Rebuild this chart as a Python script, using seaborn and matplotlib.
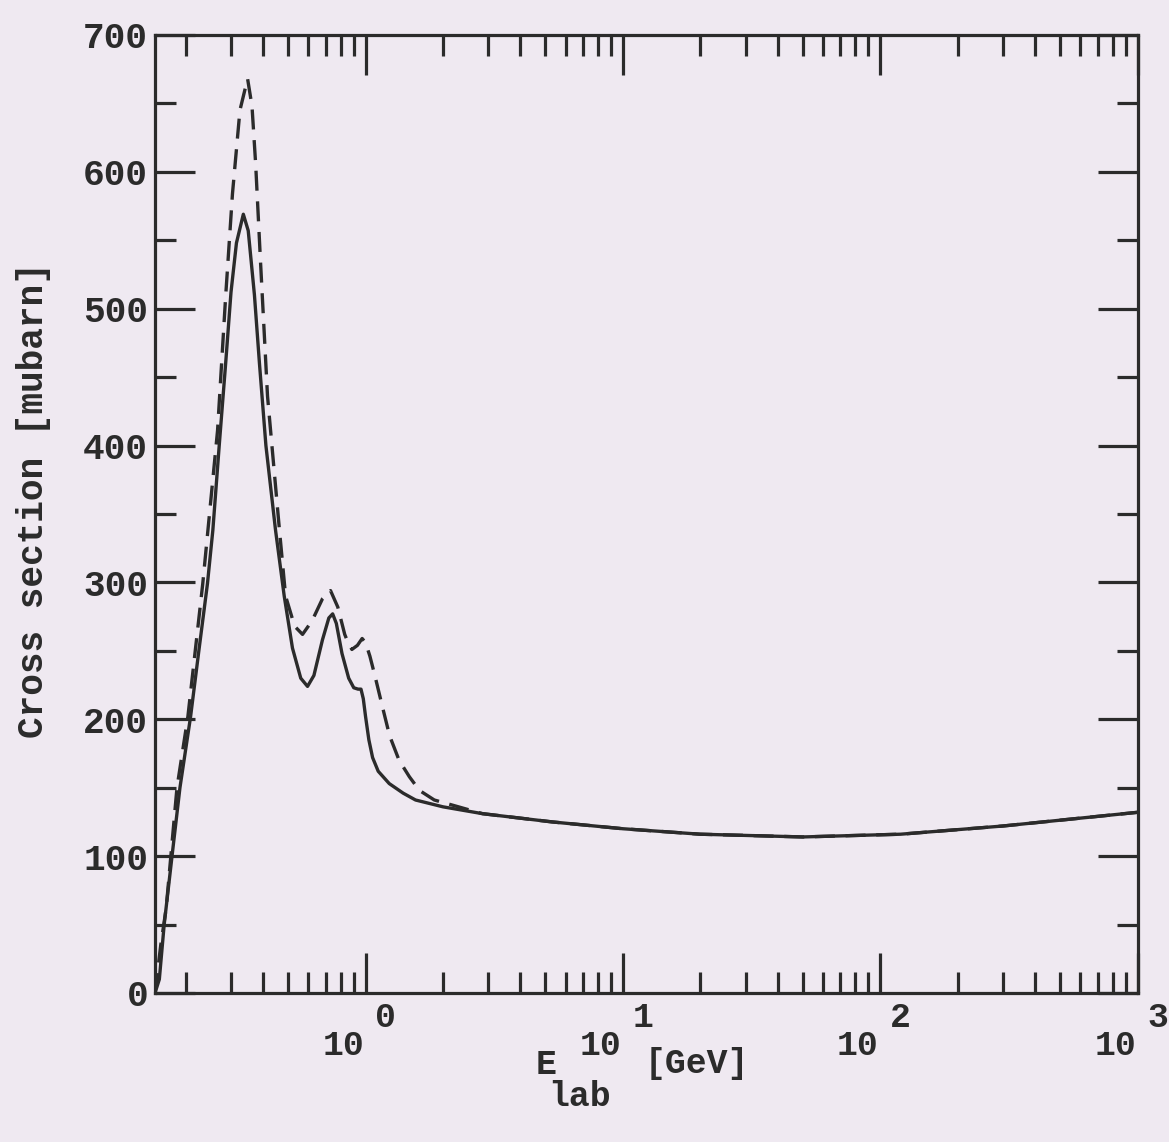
import numpy as np
import pandas as pd
import matplotlib
matplotlib.use("Agg")
import matplotlib.pyplot as plt
import matplotlib.transforms as mtransforms
from matplotlib.ticker import FixedLocator, NullFormatter
import seaborn as sns

# Photo-absorption cross section vs. lab energy (GeV, mubarn)
energy_solid = [0.152, 0.158, 0.165, 0.178, 0.190, 0.209, 0.225, 0.243, 0.255, 0.270,
                0.286, 0.300, 0.315, 0.335, 0.350, 0.370, 0.387, 0.410, 0.447, 0.483,
                0.520, 0.560, 0.595, 0.630, 0.680, 0.720, 0.745, 0.770, 0.810, 0.860,
                0.900, 0.935, 0.960, 0.980, 1.000, 1.030, 1.065, 1.120, 1.236, 1.400,
                1.564, 2.000, 2.850, 5.300, 10.0, 20.0, 50.0, 120.0, 300.0, 1000.0]
sigma_solid = [0, 10, 50, 104, 150, 202, 250, 299, 338, 400,
               460, 512, 548, 569, 557, 510, 460, 400, 338, 290,
               252, 230, 224, 232, 258, 274, 277, 270, 248, 230,
               223, 222, 222, 215, 202, 185, 172, 162, 153, 146,
               141, 136, 131, 125, 120, 116, 114, 116, 122, 132]

energy_dashed = [0.152, 0.160, 0.168, 0.185, 0.204, 0.233, 0.266, 0.286, 0.304, 0.325,
                 0.348, 0.362, 0.374, 0.391, 0.416, 0.463, 0.489, 0.530, 0.569, 0.620,
                 0.680, 0.731, 0.780, 0.830, 0.855, 0.885, 0.930, 0.970, 1.000, 1.040,
                 1.090, 1.160, 1.240, 1.350, 1.480, 1.620, 1.850, 2.200, 2.850, 5.300,
                 10.0, 20.0, 50.0, 120.0, 300.0, 1000.0]
sigma_dashed = [0, 35, 62, 150, 202, 299, 411, 509, 584, 645,
                668, 648, 606, 533, 436, 338, 290, 268, 262, 272,
                288, 294, 282, 262, 256, 251, 254, 259, 256, 246,
                231, 210, 188, 170, 158, 148, 141, 137, 131, 125,
                120, 116, 114, 116, 122, 132]

y_major = [0, 100, 200, 300, 400, 500, 600, 700]
y_minor = [50, 150, 250, 350, 450, 550, 650]
decades = [0, 1, 2, 3]
x_range = (0.152, 1000.0)

ink = "#2b2b2b"
paper = "#efe9f1"

df = pd.concat([
    pd.DataFrame({"E": energy_solid, "sigma": sigma_solid, "curve": "full"}),
    pd.DataFrame({"E": energy_dashed, "sigma": sigma_dashed, "curve": "bare"}),
], ignore_index=True)

sns.set_theme(style="ticks")
plt.rcParams["font.family"] = ["Liberation Mono", "DejaVu Sans Mono"]
plt.rcParams["font.weight"] = "bold"
plt.rcParams["text.color"] = ink
plt.rcParams["axes.edgecolor"] = ink
plt.rcParams["xtick.color"] = ink
plt.rcParams["ytick.color"] = ink

fig = plt.figure(figsize=(11.69, 11.42), dpi=100)
fig.patch.set_facecolor(paper)
ax = fig.add_axes([0.1326, 0.1305, 0.8405, 0.8389])
ax.set_facecolor(paper)

sns.lineplot(data=df, x="E", y="sigma", style="curve", style_order=["full", "bare"],
             dashes={"full": "", "bare": (6, 3.2)}, color=ink, linewidth=2.4,
             estimator=None, sort=False, legend=False, ax=ax)

ax.set_xscale("log")
ax.set_xlim(*x_range)
ax.set_ylim(0, 700)

ax.xaxis.set_major_locator(FixedLocator([10.0 ** d for d in decades]))
minor_x = [m * 10.0 ** d for d in [-1, 0, 1, 2] for m in range(2, 10)]
ax.xaxis.set_minor_locator(FixedLocator([v for v in minor_x if x_range[0] < v < x_range[1]]))
ax.xaxis.set_major_formatter(NullFormatter())
ax.xaxis.set_minor_formatter(NullFormatter())
ax.yaxis.set_major_locator(FixedLocator(y_major))
ax.yaxis.set_minor_locator(FixedLocator(y_minor))
ax.set_yticklabels([str(v) for v in y_major])

for side in ax.spines.values():
    side.set_linewidth(2.3)
    side.set_color(ink)
ax.tick_params(which="both", direction="in", top=True, right=True, width=2.3, color=ink)
ax.tick_params(which="major", length=29)
ax.tick_params(which="minor", length=15)
ax.tick_params(axis="y", which="major", labelsize=26, pad=5)

# decade labels with full-size exponents
base = mtransforms.blended_transform_factory(ax.transData, ax.transAxes)
for d in decades:
    off_main = mtransforms.ScaledTranslation(-1 / 72, -38 / 72, fig.dpi_scale_trans)
    off_exp = mtransforms.ScaledTranslation(7 / 72, -18 / 72, fig.dpi_scale_trans)
    ax.text(10.0 ** d, 0, "10", transform=base + off_main, ha="right", va="center",
            fontsize=25, fontweight="bold", clip_on=False)
    ax.text(10.0 ** d, 0, str(d), transform=base + off_exp, ha="left", va="center",
            fontsize=25, fontweight="bold", clip_on=False)

ax.set_xlabel("")
ax.set_ylabel("")
fig.text(546 / 1169, 1 - 1064 / 1142, "E", ha="center", va="center", fontsize=25, fontweight="bold")
fig.text(580 / 1169, 1 - 1097 / 1142, "lab", ha="center", va="center", fontsize=25, fontweight="bold")
fig.text(697 / 1169, 1 - 1063 / 1142, "[GeV]", ha="center", va="center", fontsize=25, fontweight="bold")
fig.text(34 / 1169, 1 - 500 / 1142, "Cross section [mubarn]", rotation=90,
         ha="center", va="center", fontsize=26, fontweight="bold")

fig.savefig("out.png", dpi=100, facecolor=paper)
